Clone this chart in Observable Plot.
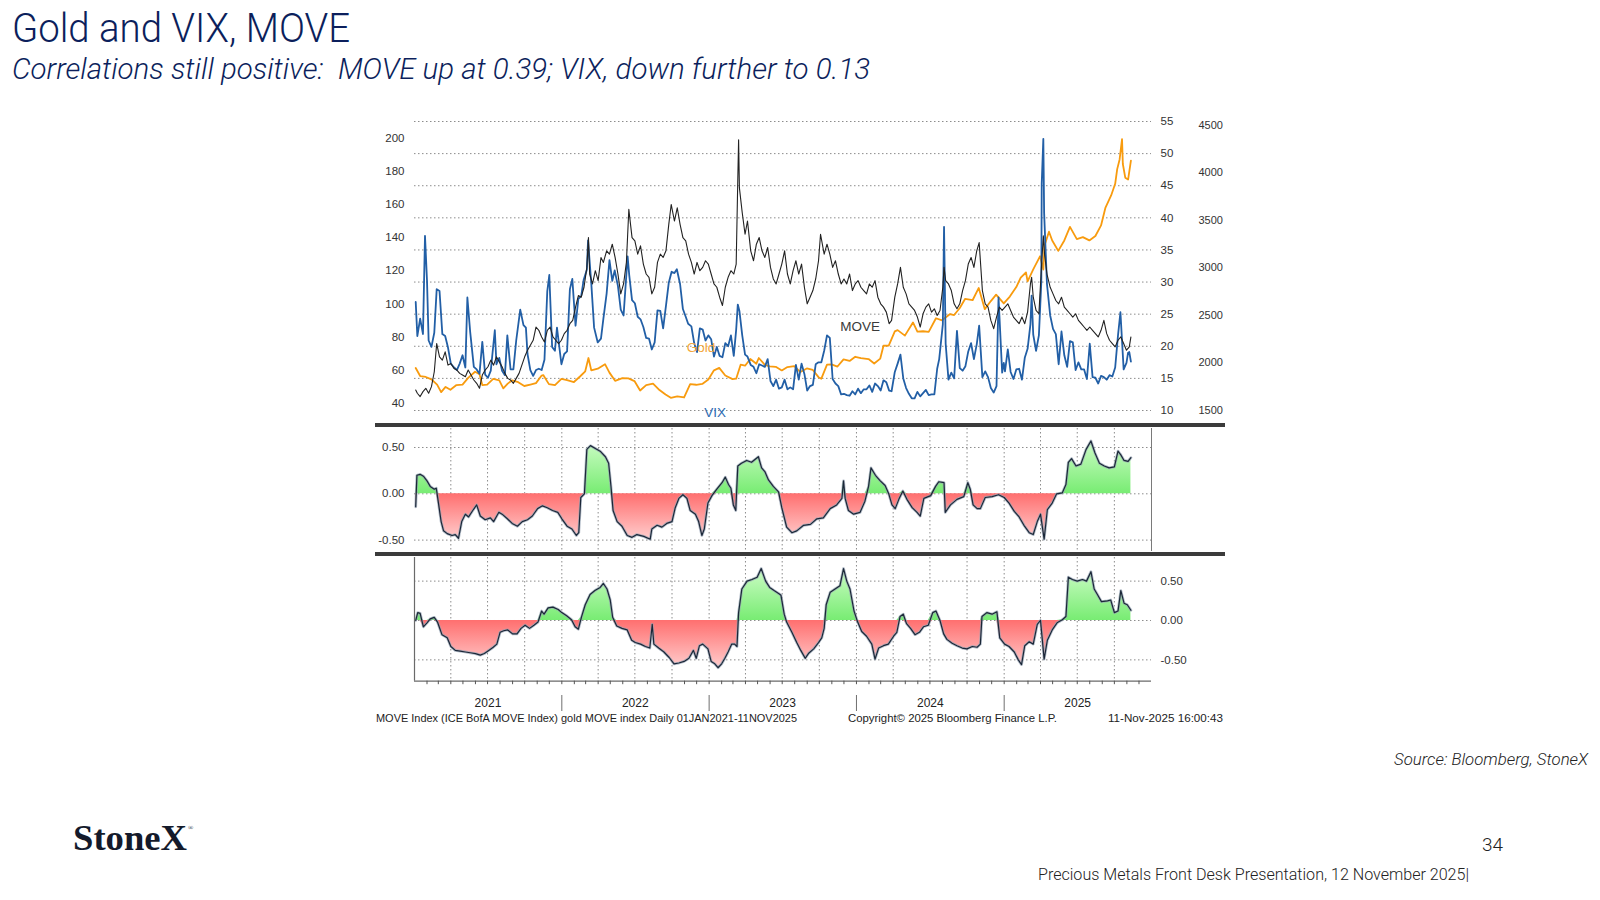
<!DOCTYPE html>
<html>
<head>
<meta charset="utf-8">
<script src="https://cdn.jsdelivr.net/npm/d3@7"></script>
<script src="https://cdn.jsdelivr.net/npm/@observablehq/plot@0.6"></script>
<style>
  html, body { margin: 0; padding: 0; background: #fff; }
  body { width: 1600px; height: 900px; position: relative; overflow: hidden; }
  #page { position: absolute; left: 0; top: 0; z-index: 0; }
  .panel { position: absolute; left: 360px; width: 880px; z-index: 1; }
  .panel > svg { position: absolute; left: 0; top: 0; }
  .bar { position: absolute; left: 375px; width: 850px; height: 4px; background: #3b3b3b; z-index: 3; }
</style>
</head>
<body>
<svg id="page" width="1600" height="900" xmlns="http://www.w3.org/2000/svg">
  <text x="12" y="42" font-family="Roboto, 'Open Sans', sans-serif" font-weight="300" font-size="40" fill="#0c1f5c" textLength="338" lengthAdjust="spacingAndGlyphs">Gold and VIX, MOVE</text>
  <text x="12" y="79" font-family="Roboto, 'Open Sans', sans-serif" font-weight="300" font-style="italic" font-size="29" fill="#0c1f5c" textLength="858" lengthAdjust="spacingAndGlyphs" xml:space="preserve">Correlations still positive:  MOVE up at 0.39; VIX, down further to 0.13</text>
  <text x="376" y="722" font-family="'Liberation Sans', Arial, sans-serif" font-size="10.5" fill="#222" textLength="421" lengthAdjust="spacingAndGlyphs">MOVE Index (ICE BofA MOVE Index) gold MOVE index Daily 01JAN2021-11NOV2025</text>
  <text x="848" y="722" font-family="'Liberation Sans', Arial, sans-serif" font-size="10.5" fill="#222" textLength="209" lengthAdjust="spacingAndGlyphs">Copyright© 2025 Bloomberg Finance L.P.</text>
  <text x="1108" y="722" font-family="'Liberation Sans', Arial, sans-serif" font-size="10.5" fill="#222" textLength="115" lengthAdjust="spacingAndGlyphs">11-Nov-2025 16:00:43</text>
  <text x="1394" y="765" font-family="Roboto, sans-serif" font-weight="300" font-style="italic" font-size="17" fill="#222" textLength="194" lengthAdjust="spacingAndGlyphs">Source: Bloomberg, StoneX</text>
  <text x="73" y="850" font-family="'Liberation Serif', 'DejaVu Serif', serif" font-weight="bold" font-size="35" fill="#141a2b" textLength="114" lengthAdjust="spacingAndGlyphs">StoneX</text>
  <text x="188" y="830" font-family="'Liberation Serif', serif" font-size="7" fill="#141a2b">®</text>
  <text x="1482" y="851" font-family="Roboto, sans-serif" font-weight="300" font-size="19" fill="#222" textLength="21" lengthAdjust="spacingAndGlyphs">34</text>
  <text x="1038" y="880" font-family="Roboto, sans-serif" font-weight="300" font-size="16" fill="#222" textLength="431" lengthAdjust="spacingAndGlyphs">Precious Metals Front Desk Presentation, 12 November 2025|</text>
</svg>

<div id="top" class="panel" style="top:100px;height:325px;"></div>
<div id="mid" class="panel" style="top:425px;height:128px;"></div>
<div id="bot" class="panel" style="top:555px;height:130px;"></div>
<div id="years" class="panel" style="top:685px;height:30px;"></div>
<div class="bar" style="top:423px;"></div>
<div class="bar" style="top:552px;"></div>

<script>
// ---------------- DATA ----------------
const vixDates = [
"2021-01-04","2021-01-08","2021-01-15","2021-01-22","2021-01-27","2021-02-01","2021-02-05","2021-02-12","2021-02-19","2021-02-25",
"2021-03-04","2021-03-11","2021-03-18","2021-03-25","2021-04-01","2021-04-09","2021-04-16","2021-04-23","2021-04-30","2021-05-07",
"2021-05-12","2021-05-19","2021-05-28","2021-06-04","2021-06-11","2021-06-18","2021-06-25","2021-07-02","2021-07-09","2021-07-19",
"2021-07-23","2021-07-30","2021-08-06","2021-08-13","2021-08-19","2021-08-27","2021-09-03","2021-09-10","2021-09-20","2021-09-28",
"2021-10-04","2021-10-08","2021-10-15","2021-10-22","2021-10-29","2021-11-05","2021-11-12","2021-11-19","2021-11-26","2021-12-01",
"2021-12-08","2021-12-15","2021-12-20","2021-12-31",
"2022-01-07","2022-01-14","2022-01-21","2022-01-27","2022-02-04","2022-02-11","2022-02-18","2022-02-24","2022-03-04","2022-03-07",
"2022-03-15","2022-03-22","2022-03-31","2022-04-08","2022-04-14","2022-04-22","2022-04-29","2022-05-06","2022-05-12","2022-05-20",
"2022-05-27","2022-06-03","2022-06-13","2022-06-17","2022-06-24","2022-07-01","2022-07-08","2022-07-15","2022-07-22","2022-07-29",
"2022-08-05","2022-08-12","2022-08-19","2022-08-26","2022-09-02","2022-09-09","2022-09-16","2022-09-23","2022-09-30","2022-10-07",
"2022-10-13","2022-10-21","2022-10-28","2022-11-04","2022-11-10","2022-11-18","2022-11-25","2022-12-02","2022-12-09","2022-12-16",
"2022-12-23","2022-12-30",
"2023-01-06","2023-01-13","2023-01-20","2023-01-27","2023-02-03","2023-02-10","2023-02-17","2023-02-24","2023-03-03","2023-03-09",
"2023-03-13","2023-03-17","2023-03-24","2023-03-31","2023-04-06","2023-04-14","2023-04-21","2023-04-28","2023-05-05","2023-05-12",
"2023-05-19","2023-05-26","2023-06-02","2023-06-09","2023-06-16","2023-06-23","2023-06-30","2023-07-07","2023-07-14","2023-07-21",
"2023-07-28","2023-08-04","2023-08-11","2023-08-18","2023-08-25","2023-09-01","2023-09-08","2023-09-15","2023-09-22","2023-09-29",
"2023-10-06","2023-10-13","2023-10-20","2023-10-27","2023-11-03","2023-11-10","2023-11-17","2023-11-24","2023-12-01","2023-12-08",
"2023-12-15","2023-12-22","2023-12-29",
"2024-01-05","2024-01-12","2024-01-19","2024-01-26","2024-02-02","2024-02-09","2024-02-16","2024-02-23","2024-03-01","2024-03-08",
"2024-03-15","2024-03-22","2024-03-28","2024-04-05","2024-04-12","2024-04-19","2024-04-26","2024-05-03","2024-05-10","2024-05-17",
"2024-05-24","2024-05-31","2024-06-07","2024-06-14","2024-06-21","2024-06-28","2024-07-05","2024-07-12","2024-07-19","2024-07-24",
"2024-08-02","2024-08-05","2024-08-09","2024-08-16","2024-08-23","2024-08-30","2024-09-06","2024-09-13","2024-09-20","2024-09-27",
"2024-10-04","2024-10-11","2024-10-18","2024-10-25","2024-10-31","2024-11-08","2024-11-15","2024-11-22","2024-11-29","2024-12-06",
"2024-12-13","2024-12-18","2024-12-27","2024-12-31",
"2025-01-03","2025-01-10","2025-01-17","2025-01-24","2025-01-31","2025-02-07","2025-02-14","2025-02-21","2025-02-28","2025-03-07",
"2025-03-10","2025-03-14","2025-03-21","2025-03-28","2025-04-03","2025-04-04","2025-04-08","2025-04-10","2025-04-17","2025-04-25",
"2025-05-02","2025-05-09","2025-05-16","2025-05-23","2025-05-30","2025-06-06","2025-06-13","2025-06-20","2025-06-27","2025-07-04",
"2025-07-11","2025-07-18","2025-07-25","2025-08-01","2025-08-08","2025-08-15","2025-08-22","2025-08-29","2025-09-05","2025-09-12",
"2025-09-19","2025-09-26","2025-10-03","2025-10-10","2025-10-16","2025-10-24","2025-10-31","2025-11-04","2025-11-07","2025-11-11"
];
const vixValues = [
26.9,21.6,24.3,21.9,37.2,30.2,20.9,19.9,22.1,28.9,
28.6,21.9,21.6,19.8,17.3,16.7,16.3,17.3,18.6,16.7,
27.6,22.2,16.8,16.4,15.7,20.7,15.6,15.1,16.2,22.5,
17.2,18.2,16.2,15.5,21.7,16.4,16.4,20.9,25.7,23.3,
22.9,18.8,16.3,15.4,16.3,16.5,16.3,17.9,28.6,31.1,
19.9,19.3,22.9,17.2,
18.8,19.2,28.9,30.5,23.2,27.4,27.8,30.3,31.9,36.5,
29.8,22.9,20.6,21.2,24.3,28.2,33.4,30.2,31.8,29.4,
25.7,24.8,34.0,31.1,27.2,26.7,24.6,24.2,23.0,21.3,
21.2,19.5,20.6,25.6,25.5,22.8,26.3,29.9,31.6,31.4,
32.0,29.7,25.8,24.6,23.5,23.1,20.5,19.1,22.8,22.6,
20.9,21.7,
21.1,18.4,19.9,18.5,18.3,20.5,20.0,21.7,18.5,22.6,
26.5,25.5,21.7,18.7,18.4,17.1,16.8,15.8,17.2,17.0,
16.8,18.0,14.6,13.8,14.8,13.4,13.6,14.8,13.3,13.6,
13.3,17.1,14.8,17.3,15.7,13.1,13.8,14.0,17.2,17.5,
17.5,19.3,21.7,21.3,14.9,14.2,13.8,12.5,12.6,12.4,
12.3,13.0,12.5,
13.4,12.7,13.3,13.3,13.9,12.9,14.2,13.8,13.1,14.7,
14.4,13.1,13.0,16.0,17.3,18.7,15.0,13.5,12.6,11.9,
11.9,12.9,12.2,12.7,13.2,12.4,12.5,12.5,16.5,18.0,
23.4,38.6,20.4,14.8,15.9,15.0,22.4,16.6,16.2,16.9,
19.2,20.5,18.0,20.3,23.2,15.2,16.1,15.2,13.5,12.8,
13.8,27.6,15.9,17.4,
16.1,19.5,16.0,14.9,16.4,16.5,14.8,18.2,19.6,23.4,
27.9,21.8,19.3,21.7,30.0,45.3,52.3,40.7,29.7,24.8,
22.7,21.9,17.2,22.3,18.6,16.8,20.8,20.6,16.3,17.5,
16.4,16.4,14.9,20.4,15.2,15.1,14.2,15.4,15.2,14.8,
15.5,15.3,16.7,21.7,25.3,16.4,17.4,19.0,19.1,17.6
];

const moveDates = [
"2021-01-04","2021-01-08","2021-01-15","2021-01-22","2021-01-29","2021-02-05","2021-02-12","2021-02-19","2021-02-25","2021-03-04",
"2021-03-11","2021-03-18","2021-03-25","2021-04-01","2021-04-09","2021-04-16","2021-04-23","2021-04-30","2021-05-07","2021-05-14",
"2021-05-21","2021-05-28","2021-06-04","2021-06-11","2021-06-18","2021-06-25","2021-07-02","2021-07-09","2021-07-16","2021-07-23",
"2021-07-30","2021-08-06","2021-08-13","2021-08-20","2021-08-27","2021-09-03","2021-09-10","2021-09-17","2021-09-24","2021-10-01",
"2021-10-08","2021-10-15","2021-10-22","2021-10-29","2021-11-05","2021-11-12","2021-11-19","2021-11-26","2021-12-03","2021-12-10",
"2021-12-17","2021-12-24","2021-12-31",
"2022-01-07","2022-01-14","2022-01-21","2022-01-28","2022-02-04","2022-02-11","2022-02-18","2022-02-25","2022-03-04","2022-03-08",
"2022-03-11","2022-03-18","2022-03-25","2022-04-01","2022-04-08","2022-04-14","2022-04-22","2022-04-29","2022-05-06","2022-05-13",
"2022-05-20","2022-05-27","2022-06-03","2022-06-10","2022-06-16","2022-06-24","2022-07-01","2022-07-08","2022-07-15","2022-07-22",
"2022-07-29","2022-08-05","2022-08-12","2022-08-19","2022-08-26","2022-09-02","2022-09-09","2022-09-16","2022-09-23","2022-09-29",
"2022-10-07","2022-10-14","2022-10-21","2022-10-28","2022-11-04","2022-11-11","2022-11-18","2022-11-25","2022-12-02","2022-12-09",
"2022-12-16","2022-12-23","2022-12-30",
"2023-01-06","2023-01-13","2023-01-20","2023-01-27","2023-02-03","2023-02-10","2023-02-17","2023-02-24","2023-03-03","2023-03-09",
"2023-03-13","2023-03-15","2023-03-17","2023-03-24","2023-03-31","2023-04-06","2023-04-14","2023-04-21","2023-04-28","2023-05-05",
"2023-05-12","2023-05-19","2023-05-26","2023-06-02","2023-06-09","2023-06-16","2023-06-23","2023-06-30","2023-07-07","2023-07-14",
"2023-07-21","2023-07-28","2023-08-04","2023-08-11","2023-08-18","2023-08-25","2023-09-01","2023-09-08","2023-09-15","2023-09-22",
"2023-09-29","2023-10-04","2023-10-13","2023-10-20","2023-10-27","2023-11-03","2023-11-10","2023-11-17","2023-11-24","2023-12-01",
"2023-12-08","2023-12-15","2023-12-22","2023-12-29",
"2024-01-05","2024-01-12","2024-01-19","2024-01-26","2024-02-02","2024-02-09","2024-02-16","2024-02-23","2024-03-01","2024-03-08",
"2024-03-15","2024-03-22","2024-03-28","2024-04-05","2024-04-12","2024-04-19","2024-04-26","2024-05-03","2024-05-10","2024-05-17",
"2024-05-24","2024-05-31","2024-06-07","2024-06-14","2024-06-21","2024-06-28","2024-07-05","2024-07-12","2024-07-19","2024-07-26",
"2024-08-02","2024-08-05","2024-08-09","2024-08-16","2024-08-23","2024-08-30","2024-09-06","2024-09-13","2024-09-20","2024-09-27",
"2024-10-04","2024-10-11","2024-10-18","2024-10-25","2024-10-31","2024-11-08","2024-11-15","2024-11-22","2024-11-29","2024-12-06",
"2024-12-13","2024-12-20","2024-12-27",
"2025-01-03","2025-01-10","2025-01-17","2025-01-24","2025-01-31","2025-02-07","2025-02-14","2025-02-21","2025-02-28","2025-03-07",
"2025-03-10","2025-03-14","2025-03-21","2025-03-28","2025-04-04","2025-04-08","2025-04-11","2025-04-17","2025-04-25","2025-05-02",
"2025-05-09","2025-05-16","2025-05-23","2025-05-30","2025-06-06","2025-06-13","2025-06-20","2025-06-27","2025-07-04","2025-07-11",
"2025-07-18","2025-07-25","2025-08-01","2025-08-08","2025-08-15","2025-08-22","2025-08-29","2025-09-05","2025-09-12","2025-09-19",
"2025-09-26","2025-10-03","2025-10-10","2025-10-17","2025-10-24","2025-10-31","2025-11-07","2025-11-11"
];
const moveValues = [
48,46,44,47,49,46,50,59,76,68,
66,71,63,64,61,60,58,57,56,60,
57,54,52,49,57,60,62,66,63,68,
65,62,58,55,54,52,55,58,63,68,
72,75,78,86,84,80,77,84,86,80,
78,76,78,
82,84,88,90,98,105,104,110,122,140,
118,112,120,114,128,125,132,130,136,128,
118,106,112,125,157,140,138,130,135,124,
118,116,106,110,125,130,128,132,148,160,
150,158,148,140,138,130,125,118,125,120,
122,126,124,
118,112,110,104,99,110,116,120,118,124,
175,199,170,155,142,150,132,126,136,140,
132,128,134,122,115,112,118,124,132,118,
112,120,126,118,124,110,100,104,108,115,
126,142,130,136,130,122,126,118,112,115,
112,118,108,112,
114,110,108,106,112,110,114,104,100,98,
95,88,90,104,112,122,110,106,100,98,
96,92,86,94,98,100,95,97,93,96,
110,122,114,112,108,100,97,100,108,114,
124,128,122,132,137,108,100,98,90,85,
92,98,96,
98,100,96,92,90,88,92,88,95,112,
116,104,96,94,125,141,130,118,110,106,
102,100,104,98,96,94,92,94,90,88,
86,84,86,84,82,80,84,90,82,78,
76,74,78,80,76,72,74,80
];

const goldDates = [
"2021-01-04","2021-01-15","2021-01-29","2021-02-12","2021-02-26","2021-03-08","2021-03-19","2021-03-31","2021-04-15","2021-04-30",
"2021-05-14","2021-05-31","2021-06-11","2021-06-18","2021-06-30","2021-07-15","2021-07-30","2021-08-09","2021-08-20","2021-08-31",
"2021-09-15","2021-09-30","2021-10-15","2021-10-29","2021-11-12","2021-11-16","2021-11-30","2021-12-15","2021-12-31",
"2022-01-14","2022-01-31","2022-02-15","2022-02-28","2022-03-08","2022-03-15","2022-03-31","2022-04-18","2022-04-29","2022-05-13",
"2022-05-31","2022-06-15","2022-06-30","2022-07-14","2022-07-29","2022-08-15","2022-08-31","2022-09-15","2022-09-28","2022-10-14",
"2022-10-31","2022-11-15","2022-11-30","2022-12-15","2022-12-30",
"2023-01-13","2023-01-26","2023-02-10","2023-02-28","2023-03-09","2023-03-20","2023-03-31","2023-04-13","2023-04-28","2023-05-04",
"2023-05-19","2023-05-31","2023-06-15","2023-06-30","2023-07-14","2023-07-31","2023-08-15","2023-08-31","2023-09-15","2023-09-29",
"2023-10-06","2023-10-20","2023-10-31","2023-11-15","2023-11-30","2023-12-15","2023-12-29",
"2024-01-12","2024-01-31","2024-02-14","2024-02-29","2024-03-08","2024-03-21","2024-04-05","2024-04-12","2024-04-30","2024-05-20",
"2024-05-31","2024-06-14","2024-06-28","2024-07-16","2024-07-31","2024-08-20","2024-08-30","2024-09-13","2024-09-26","2024-10-15",
"2024-10-30","2024-11-14","2024-11-29","2024-12-12","2024-12-31",
"2025-01-15","2025-01-31","2025-02-11","2025-02-24","2025-02-28","2025-03-14","2025-03-31","2025-04-08","2025-04-11","2025-04-22",
"2025-04-30","2025-05-15","2025-05-30","2025-06-13","2025-06-30","2025-07-15","2025-07-31","2025-08-15","2025-08-29","2025-09-09",
"2025-09-23","2025-10-03","2025-10-08","2025-10-14","2025-10-20","2025-10-22","2025-10-28","2025-11-04","2025-11-11"
];
const goldValues = [
1945,1860,1850,1825,1770,1690,1745,1715,1765,1770,
1840,1905,1880,1765,1770,1830,1815,1730,1780,1815,
1795,1755,1770,1785,1865,1870,1775,1765,1830,
1818,1797,1855,1910,2050,1920,1937,1985,1896,1810,
1837,1835,1807,1708,1765,1780,1712,1665,1630,1645,
1634,1775,1768,1777,1824,
1920,1946,1865,1828,1832,1980,1969,2040,1990,2050,
1978,1962,1957,1919,1955,1965,1902,1940,1924,1848,
1832,1981,1983,1960,2036,2019,2063,
2049,2039,1992,2044,2179,2181,2330,2344,2286,2425,
2327,2332,2326,2469,2447,2513,2503,2577,2672,2661,
2788,2565,2650,2718,2625,
2697,2798,2897,2951,2858,2984,3123,2982,3237,3381,
3288,3179,3289,3432,3303,3324,3289,3336,3447,3635,
3763,3886,4040,4142,4356,4094,3950,3930,4130
];

const moveCorrDates = [
"2021-01-04","2021-01-07","2021-01-15","2021-01-23","2021-02-01","2021-02-09","2021-02-19","2021-02-24","2021-03-02","2021-03-08",
"2021-03-14","2021-03-23","2021-04-04","2021-04-12","2021-04-20","2021-04-28","2021-05-07","2021-05-15","2021-05-27","2021-06-04",
"2021-06-13","2021-06-25","2021-07-08","2021-07-16","2021-07-29","2021-08-06","2021-08-19","2021-08-31","2021-09-13","2021-09-25",
"2021-10-08","2021-10-20","2021-11-02","2021-11-14","2021-11-26","2021-12-09","2021-12-22",
"2022-01-01","2022-01-14","2022-01-26","2022-02-06","2022-02-12","2022-02-17","2022-02-26","2022-03-04","2022-03-13","2022-03-25",
"2022-04-06","2022-04-19","2022-04-27","2022-05-03","2022-05-08","2022-05-18","2022-05-30","2022-06-12","2022-06-24","2022-07-06",
"2022-07-23","2022-08-08","2022-08-12","2022-08-25","2022-09-06","2022-09-18","2022-10-01","2022-10-09","2022-10-18","2022-10-28",
"2022-11-07","2022-11-15","2022-11-28","2022-12-06","2022-12-14","2022-12-20","2022-12-29",
"2023-01-08","2023-01-20","2023-02-02","2023-02-10","2023-02-18","2023-02-24","2023-03-02","2023-03-08","2023-03-13","2023-03-22",
"2023-04-04","2023-04-16","2023-05-03","2023-05-11","2023-05-19","2023-05-28","2023-06-09","2023-06-22","2023-06-30","2023-07-12",
"2023-07-25","2023-08-06","2023-08-23","2023-09-09","2023-09-25","2023-10-11","2023-10-28","2023-11-13","2023-11-26","2023-11-30",
"2023-12-04","2023-12-12","2023-12-25",
"2024-01-10","2024-01-22","2024-01-31","2024-02-06","2024-02-17","2024-02-29","2024-03-12","2024-03-21","2024-03-29","2024-04-06",
"2024-04-15","2024-04-25","2024-05-05","2024-05-18","2024-05-30","2024-06-07","2024-06-16","2024-07-03","2024-07-15","2024-07-23",
"2024-08-05","2024-08-08","2024-08-21","2024-09-06","2024-09-23","2024-10-03","2024-10-09","2024-10-16","2024-10-26","2024-11-03",
"2024-11-15","2024-12-02","2024-12-18",
"2025-01-01","2025-01-13","2025-01-26","2025-02-07","2025-02-19","2025-03-04","2025-03-14","2025-03-24","2025-04-01","2025-04-10",
"2025-04-18","2025-04-30","2025-05-11","2025-05-25","2025-06-03","2025-06-09","2025-06-17","2025-06-28","2025-07-10","2025-07-23",
"2025-08-04","2025-08-14","2025-08-25","2025-09-06","2025-09-18","2025-10-01","2025-10-10","2025-10-17","2025-10-25","2025-11-04",
"2025-11-11"
];
const moveCorrValues = [
-0.14,0.20,0.21,0.19,0.14,0.08,0.05,0.06,-0.12,-0.30,
-0.40,-0.43,-0.45,-0.44,-0.48,-0.30,-0.22,-0.25,-0.17,-0.12,
-0.24,-0.28,-0.26,-0.30,-0.20,-0.22,-0.27,-0.32,-0.35,-0.30,
-0.28,-0.24,-0.16,-0.13,-0.15,-0.18,-0.20,
-0.27,-0.35,-0.38,-0.45,-0.42,-0.04,0.00,0.48,0.52,0.49,
0.46,0.40,0.33,0.07,-0.18,-0.30,-0.35,-0.45,-0.47,-0.44,
-0.46,-0.49,-0.38,-0.34,-0.36,-0.32,-0.30,-0.15,-0.05,-0.01,
-0.05,-0.18,-0.22,-0.30,-0.45,-0.38,-0.10,
-0.02,0.05,0.12,0.18,0.10,0.06,-0.12,-0.18,0.30,0.33,
0.36,0.34,0.40,0.28,0.24,0.15,0.08,0.02,-0.15,-0.36,
-0.42,-0.40,-0.34,-0.33,-0.27,-0.26,-0.16,-0.12,-0.05,0.14,
-0.05,-0.18,-0.22,
-0.20,-0.08,0.08,0.28,0.20,0.14,0.09,0.00,-0.12,-0.16,
-0.06,0.03,-0.06,-0.15,-0.20,-0.24,-0.05,-0.02,0.08,0.13,
0.12,-0.20,-0.12,-0.06,-0.03,0.12,0.05,-0.12,-0.16,-0.16,
-0.04,-0.03,-0.01,
-0.04,-0.10,-0.19,-0.25,-0.34,-0.42,-0.44,-0.30,-0.22,-0.49,
-0.17,-0.10,0.00,0.01,0.10,0.34,0.38,0.30,0.32,0.48,
0.57,0.44,0.33,0.30,0.28,0.29,0.46,0.42,0.36,0.35,
0.39
];

const vixCorrDates = [
"2021-01-04","2021-01-09","2021-01-15","2021-01-23","2021-02-01","2021-02-09","2021-02-19","2021-02-27","2021-03-10","2021-03-23",
"2021-04-01","2021-04-12","2021-04-24","2021-05-07","2021-05-19","2021-06-01","2021-06-13","2021-06-23","2021-07-04","2021-07-15",
"2021-07-24","2021-08-01","2021-08-10","2021-08-20","2021-09-01","2021-09-12","2021-09-22","2021-10-02","2021-10-13","2021-10-24",
"2021-11-03","2021-11-12","2021-11-18","2021-11-28","2021-12-10","2021-12-23",
"2022-01-01","2022-01-13","2022-01-25","2022-02-03","2022-02-11","2022-02-19","2022-02-28","2022-03-12","2022-03-24","2022-04-06",
"2022-04-14","2022-04-23","2022-05-01","2022-05-07","2022-05-17","2022-05-30","2022-06-12","2022-06-23","2022-07-02","2022-07-15",
"2022-07-27","2022-08-07","2022-08-13","2022-08-17","2022-08-29","2022-09-11","2022-09-24","2022-10-06","2022-10-18","2022-10-31",
"2022-11-12","2022-11-23","2022-11-30","2022-12-08","2022-12-16","2022-12-29",
"2023-01-06","2023-01-15","2023-01-23","2023-02-01","2023-02-09","2023-02-17","2023-02-26","2023-03-05","2023-03-11","2023-03-15",
"2023-03-23","2023-04-05","2023-04-17","2023-04-30","2023-05-10","2023-05-21","2023-05-31","2023-06-11","2023-06-23","2023-06-28",
"2023-07-06","2023-07-12","2023-07-17","2023-07-25","2023-08-06","2023-08-16","2023-08-27","2023-09-04","2023-09-17","2023-09-29",
"2023-10-07","2023-10-13","2023-10-18","2023-10-28","2023-11-09","2023-11-21","2023-11-30","2023-12-08","2023-12-16","2023-12-26",
"2024-01-04","2024-01-14","2024-01-26","2024-02-08","2024-02-16","2024-02-25","2024-03-08","2024-03-20","2024-04-02","2024-04-10",
"2024-04-18","2024-04-26","2024-05-04","2024-05-14","2024-05-25","2024-06-05","2024-06-15","2024-06-27","2024-07-08","2024-07-16",
"2024-07-26","2024-08-04","2024-08-12","2024-08-25","2024-09-06","2024-09-19","2024-10-01","2024-10-14","2024-10-26","2024-11-03",
"2024-11-07","2024-11-19","2024-12-02","2024-12-14","2024-12-21",
"2025-01-02","2025-01-13","2025-01-26","2025-02-05","2025-02-13","2025-02-21","2025-03-04","2025-03-14","2025-03-24","2025-04-01",
"2025-04-10","2025-04-18","2025-04-30","2025-05-12","2025-05-25","2025-06-03","2025-06-09","2025-06-19","2025-07-01","2025-07-14",
"2025-07-24","2025-08-04","2025-08-12","2025-08-20","2025-08-30","2025-09-14","2025-09-22","2025-10-01","2025-10-10","2025-10-17",
"2025-10-25","2025-11-02","2025-11-11"
];
const vixCorrValues = [
0.00,0.10,0.09,-0.08,-0.03,0.02,0.04,-0.02,-0.18,-0.22,
-0.33,-0.38,-0.39,-0.40,-0.41,-0.42,-0.44,-0.42,-0.38,-0.34,
-0.30,-0.15,-0.13,-0.12,-0.17,-0.17,-0.10,-0.06,-0.10,-0.06,
-0.02,0.12,0.08,0.16,0.17,0.14,
0.10,0.06,0.01,-0.08,-0.11,0.05,0.20,0.33,0.38,0.42,
0.47,0.40,0.26,0.04,-0.07,-0.10,-0.12,-0.25,-0.28,-0.30,
-0.33,-0.35,-0.05,-0.30,-0.35,-0.40,-0.47,-0.55,-0.54,-0.52,
-0.48,-0.38,-0.48,-0.32,-0.30,-0.36,
-0.52,-0.55,-0.60,-0.55,-0.48,-0.40,-0.30,-0.30,-0.33,0.10,
0.40,0.50,0.52,0.55,0.66,0.50,0.42,0.38,0.34,0.32,
0.08,-0.02,-0.07,-0.15,-0.28,-0.38,-0.48,-0.42,-0.36,-0.28,
-0.22,-0.10,0.20,0.36,0.40,0.44,0.66,0.50,0.40,0.12,
-0.02,-0.14,-0.20,-0.30,-0.49,-0.35,-0.32,-0.30,-0.20,-0.15,
0.05,0.08,-0.04,-0.10,-0.18,-0.15,-0.08,-0.06,0.10,0.12,
0.00,-0.17,-0.24,-0.29,-0.32,-0.35,-0.36,-0.33,-0.34,-0.30,
0.05,0.10,0.08,0.11,-0.22,
-0.30,-0.33,-0.40,-0.50,-0.56,-0.32,-0.27,-0.30,-0.05,0.00,
-0.49,-0.25,-0.12,-0.03,0.01,0.05,0.55,0.52,0.50,0.52,
0.50,0.62,0.40,0.33,0.24,0.25,0.26,0.10,0.12,0.38,
0.22,0.20,0.13
];

const moveTicks = [40, 60, 80, 100, 120, 140, 160, 180, 200];
const vixTicks = [10, 15, 20, 25, 30, 35, 40, 45, 50, 55];
const goldTicks = [1500, 2000, 2500, 3000, 3500, 4000, 4500];
const corrTicks = [-0.5, 0, 0.5];
const yearLabels = ["2021", "2022", "2023", "2024", "2025"];
const seriesLabels = [
  {name: "MOVE", date: "2024-01-10", level: 23.1, color: "#3a3a3a"},
  {name: "Gold", date: "2022-12-12", level: 19.8, color: "#f4a73a"},
  {name: "VIX",  date: "2023-01-16", level: 9.7,  color: "#2f6cb2"}
];

// ---------------- BUILD ----------------
const zip = (ds, vs) => ds.map((d, i) => ({date: new Date(d), value: vs[i]}));
const vix = zip(vixDates, vixValues);
const move = zip(moveDates, moveValues);
const gold = zip(goldDates, goldValues);
const moveCorr = zip(moveCorrDates, moveCorrValues);
const vixCorr = zip(vixCorrDates, vixCorrValues);

const X_DOMAIN = [new Date("2021-01-01"), new Date("2026-01-01")];
const W = 880, ML = 54, MR = 89;
const FONT = "'Liberation Sans', Arial, sans-serif";
const baseStyle = {background: "transparent", overflow: "visible", fontFamily: FONT, fontSize: "11px", color: "#333"};
const dotted = {stroke: "#8c8c8c", strokeOpacity: 1, strokeDasharray: "1.5,2.5", strokeWidth: 1};
const quarterTicks = d3.utcMonth.every(3).range(new Date("2021-04-01"), X_DOMAIN[1]);
const monthTicks = d3.utcMonth.range(new Date("2021-02-01"), X_DOMAIN[1]);
const plain = d => String(d);

function addTo(id, svg) { document.getElementById(id).appendChild(svg); }

const common = (h, mt, mb) => ({width: W, height: h, marginLeft: ML, marginRight: MR, marginTop: mt, marginBottom: mb, style: baseStyle});

// Top panel: gridlines + VIX axis
addTo("top", Plot.plot({
  ...common(325, 21, 15),
  x: {type: "utc", domain: X_DOMAIN, axis: null},
  y: {domain: [10, 55]},
  marks: [
    Plot.gridY(vixTicks, dotted),
    Plot.axisY(vixTicks, {anchor: "right", tickSize: 0, tickPadding: 9, fontSize: 11.5, fill: "#333", label: null, tickFormat: plain})
  ]
}));
// Gold line + axis
addTo("top", Plot.plot({
  ...common(325, 25, 15.3),
  x: {type: "utc", domain: X_DOMAIN, axis: null},
  y: {domain: [1500, 4500]},
  marks: [
    Plot.axisY(goldTicks, {anchor: "right", tickSize: 0, tickPadding: 47, fontSize: 11, fill: "#333", label: null, tickFormat: plain}),
    Plot.lineY(gold, {x: "date", y: "value", stroke: "#f89b0e", strokeWidth: 1.8})
  ]
}));
// VIX line + labels
addTo("top", Plot.plot({
  ...common(325, 21, 15),
  x: {type: "utc", domain: X_DOMAIN, axis: null},
  y: {domain: [10, 55], axis: null},
  marks: [
    Plot.lineY(vix, {x: "date", y: "value", stroke: "#225fa6", strokeWidth: 1.8}),
    ...seriesLabels.map(l => Plot.text([l], {x: d => new Date(d.date), y: "level", text: "name", fill: l.color, fontSize: 13.5, fontFamily: FONT}))
  ]
}));
// MOVE line + axis
addTo("top", Plot.plot({
  ...common(325, 37.7, 22.3),
  x: {type: "utc", domain: X_DOMAIN, axis: null},
  y: {domain: [40, 200]},
  marks: [
    Plot.axisY(moveTicks, {anchor: "left", tickSize: 0, tickPadding: 10, fontSize: 11.5, fill: "#333", label: null, tickFormat: plain}),
    Plot.lineY(move, {x: "date", y: "value", stroke: "#222", strokeWidth: 1.1})
  ]
}));

function gradDefs(id) {
  return () => {
    const defs = document.createElementNS("http://www.w3.org/2000/svg", "defs");
    defs.innerHTML =
      `<linearGradient id="${id}p" x1="0" y1="0" x2="0" y2="1"><stop offset="0" stop-color="#cdfcc6"/><stop offset="1" stop-color="#78ec73"/></linearGradient>` +
      `<linearGradient id="${id}n" x1="0" y1="0" x2="0" y2="1"><stop offset="0" stop-color="#ff6f6f"/><stop offset="1" stop-color="#ffcccc"/></linearGradient>`;
    return defs;
  };
}

function corrMarks(data, id) {
  return [
    gradDefs(id),
    Plot.areaY(data, {x: "date", y1: 0, y2: d => Math.max(0, d.value), fill: `url(#${id}p)`}),
    Plot.areaY(data, {x: "date", y1: 0, y2: d => Math.min(0, d.value), fill: `url(#${id}n)`}),
    Plot.lineY(data, {x: "date", y: "value", stroke: "#95a3b3", strokeWidth: 2.8, strokeOpacity: 0.7}),
    Plot.lineY(data, {x: "date", y: "value", stroke: "#1b2738", strokeWidth: 1.2})
  ];
}

// Middle panel: MOVE correlation
addTo("mid", Plot.plot({
  ...common(128, 3, 2),
  x: {type: "utc", domain: X_DOMAIN, axis: null},
  y: {domain: [-0.623, 0.705]},
  marks: [
    Plot.gridY(corrTicks, dotted),
    Plot.gridX(quarterTicks, dotted),
    ...corrMarks(moveCorr, "gm"),
    Plot.ruleX([X_DOMAIN[1]], {stroke: "#7a7a7a", strokeWidth: 1}),
    Plot.axisY(corrTicks, {anchor: "left", tickSize: 0, tickPadding: 10, fontSize: 11.5, fill: "#333", label: null, tickFormat: d => d.toFixed(2)})
  ]
}));

// Bottom panel: VIX correlation
const botDomain = [-0.771, 0.80];
addTo("bot", Plot.plot({
  ...common(130, 2, 4.3),
  x: {type: "utc", domain: X_DOMAIN},
  y: {domain: botDomain},
  marks: [
    Plot.gridY(corrTicks, dotted),
    Plot.gridX(quarterTicks, dotted),
    ...corrMarks(vixCorr, "gv"),
    Plot.ruleX([X_DOMAIN[0]], {stroke: "#6a6a6a", strokeWidth: 1.2}),
    Plot.ruleY([botDomain[0]], {stroke: "#6a6a6a", strokeWidth: 1.2}),
    Plot.axisX(monthTicks, {tickSize: 3.5, tickFormat: () => "", label: null, stroke: "#555"}),
    Plot.axisY(corrTicks, {anchor: "right", tickSize: 0, tickPadding: 9, fontSize: 11.5, fill: "#333", label: null, tickFormat: d => d.toFixed(2)})
  ]
}));

// Year row
const yearStarts = yearLabels.map(y => new Date(`${y}-01-01`));
addTo("years", Plot.plot({
  ...common(30, 10, 4),
  x: {type: "utc", domain: X_DOMAIN, axis: null},
  y: {axis: null},
  marks: [
    Plot.ruleX(yearStarts.slice(1), {stroke: "#6f6f6f", strokeWidth: 1}),
    Plot.text(yearLabels, {x: y => new Date(`${y}-07-02`), text: y => y, frameAnchor: "middle", fontSize: 12, fill: "#222", fontFamily: FONT})
  ]
}));
</script>
</body>
</html>
